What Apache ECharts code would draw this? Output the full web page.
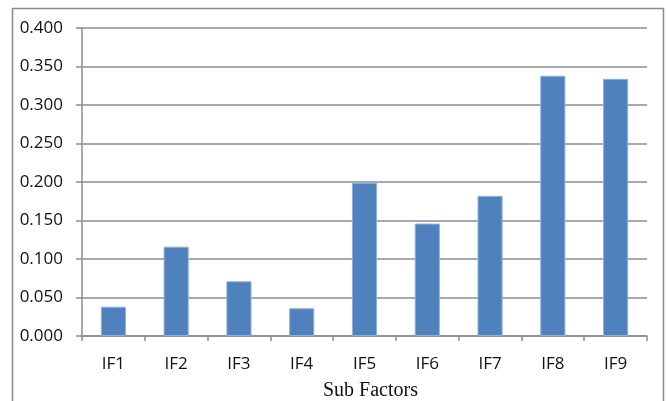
<!DOCTYPE html>
<html>
<head>
<meta charset="utf-8">
<script src="https://cdn.jsdelivr.net/npm/echarts@6/dist/echarts.min.js"></script>
<style>
  html, body { margin: 0; padding: 0; background: #ffffff; }
  #chart { width: 668px; height: 401px; }
</style>
</head>
<body>
<div id="chart"></div>
<script>
// Sub factor weights
const categories = ['IF1', 'IF2', 'IF3', 'IF4', 'IF5', 'IF6', 'IF7', 'IF8', 'IF9'];
const weights = [0.038, 0.116, 0.071, 0.036, 0.199, 0.146, 0.182, 0.338, 0.334];
const yTicks = { min: 0, max: 0.4, step: 0.05 };
const xTitle = 'Sub Factors';

const chart = echarts.init(document.getElementById('chart'), null, { renderer: 'canvas' });

const labelFont = { fontFamily: 'Open Sans', fontSize: 17, color: '#111111' };
const lineGray = '#8c8c8c';

chart.setOption({
  animation: false,
  backgroundColor: '#ffffff',
  graphic: [{
    type: 'rect',
    shape: { x: 12.5, y: 8.5, width: 651, height: 410 },
    style: { fill: 'none', stroke: '#8a8a8a', lineWidth: 1.5 },
    silent: true
  }],
  grid: { left: 82, right: 21, top: 28, bottom: 65, containLabel: false, outerBoundsMode: 'none' },
  xAxis: {
    type: 'category',
    data: categories,
    name: xTitle,
    nameLocation: 'middle',
    nameGap: 45,
    nameTextStyle: {
      fontFamily: 'Liberation Serif', fontSize: 20, color: '#111111',
      padding: [0, 0, 0, 12]
    },
    axisLine: { lineStyle: { color: lineGray, width: 1.5 } },
    axisTick: { show: true, length: 5, alignWithLabel: false, lineStyle: { color: lineGray, width: 1.5 } },
    axisLabel: Object.assign({ margin: 20 }, labelFont),
    splitLine: { show: false }
  },
  yAxis: {
    type: 'value',
    min: yTicks.min,
    max: yTicks.max,
    interval: yTicks.step,
    axisLine: { show: true, lineStyle: { color: lineGray, width: 1.5 } },
    axisTick: { show: true, length: 6, lineStyle: { color: lineGray, width: 1.5 } },
    axisLabel: Object.assign({ margin: 19, formatter: v => v.toFixed(3) }, labelFont),
    splitLine: { show: true, lineStyle: { color: lineGray, width: 1.5 } }
  },
  series: [{
    type: 'bar',
    data: weights,
    barCategoryGap: '60%',
    itemStyle: { color: '#4f81bd', borderColor: '#8fb0dc', borderWidth: 1 }
  }]
});
</script>
</body>
</html>
